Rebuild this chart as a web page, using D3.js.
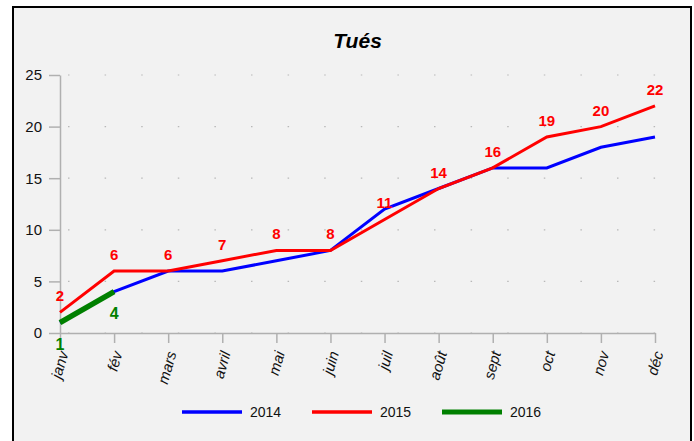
<!DOCTYPE html>
<html>
<head>
<meta charset="utf-8">
<script src="https://cdn.jsdelivr.net/npm/d3@7"></script>
<style>
  body { margin: 0; background: #fff; font-family: "Liberation Sans", Arial, sans-serif; }
  svg { display: block; }
</style>
</head>
<body>
<svg id="chart" width="694" height="441"></svg>
<script>
const months = ['janv', 'fév', 'mars', 'avril', 'mai', 'juin', 'juil', 'août', 'sept', 'oct', 'nov', 'déc'];
const tues2014 = [1, 4, 6, 6, 7, 8, 12, 14, 16, 16, 18, 19];
const tues2015 = [2, 6, 6, 7, 8, 8, 11, 14, 16, 19, 20, 22];
const tues2016 = [1, 4];
const yTicks = [0, 5, 10, 15, 20, 25];

const series = [
  { name: '2014', values: tues2014, color: '#0000ff', width: 3, label: null },
  { name: '2015', values: tues2015, color: '#ff0000', width: 3, label: 'above' },
  { name: '2016', values: tues2016, color: '#008000', width: 5.5, label: 'below' },
];

const svg = d3.select('#chart');
const margin = { top: 75, right: 39, bottom: 108, left: 60 };
const width = 694 - margin.left - margin.right;
const height = 441 - margin.top - margin.bottom;

// panel with black frame
svg.append('rect')
  .attr('x', 13).attr('y', 7)
  .attr('width', 678).attr('height', 450)
  .attr('fill', '#f2f2f2')
  .attr('stroke', '#000')
  .attr('stroke-width', 2);

svg.append('text')
  .attr('x', margin.left + width / 2)
  .attr('y', 48)
  .attr('text-anchor', 'middle')
  .style('font-size', '21px')
  .style('font-weight', 'bold')
  .style('font-style', 'italic')
  .text('Tués');

const x = d3.scalePoint().domain(months).range([0, width]);
const y = d3.scaleLinear().domain([0, 25]).range([height, 0]);

const main = svg.append('g')
  .attr('transform', `translate(${margin.left},${margin.top})`);

// dotted grid
main.append('g')
  .selectAll('line')
  .data(yTicks)
  .enter()
  .append('line')
  .attr('x1', 8).attr('x2', width + 2)
  .attr('y1', (d) => y(d)).attr('y2', (d) => y(d))
  .attr('stroke', '#b8b8b8')
  .attr('stroke-width', 1.2)
  .attr('stroke-dasharray', '1.5,35.1');

const yAxis = main.append('g')
  .call(d3.axisLeft(y).tickValues(yTicks).tickSize(11).tickSizeOuter(0).tickPadding(7));
yAxis.select('.domain').attr('stroke', '#b0b0b0').attr('stroke-width', 1.5);
yAxis.selectAll('.tick line').attr('stroke', '#b0b0b0').attr('stroke-width', 1.5);
yAxis.selectAll('text')
  .style('font-size', '15px')
  .style('font-family', '"Liberation Sans", Arial, sans-serif')
  .attr('fill', '#111');

const xAxis = main.append('g')
  .attr('transform', `translate(0,${height})`)
  .call(d3.axisBottom(x).tickSize(10).tickSizeOuter(0).tickPadding(0));
xAxis.select('.domain').attr('stroke', '#b0b0b0').attr('stroke-width', 1.5);
xAxis.selectAll('.tick line').attr('stroke', '#b0b0b0').attr('stroke-width', 1.5);
xAxis.selectAll('text')
  .attr('y', 0).attr('dy', 0)
  .attr('text-anchor', 'end')
  .attr('transform', 'translate(8,20) rotate(-74)')
  .style('font-size', '15px')
  .style('font-style', 'italic')
  .style('font-family', '"Liberation Sans", Arial, sans-serif')
  .attr('fill', '#111');

const line = d3.line()
  .x((d, i) => x(months[i]))
  .y((d) => y(d));

series.forEach((s) => {
  main.append('path')
    .datum(s.values)
    .attr('fill', 'none')
    .attr('stroke', s.color)
    .attr('stroke-width', s.width)
    .attr('stroke-linejoin', 'miter')
    .attr('d', line);
});

series.filter((s) => s.label).forEach((s) => {
  main.append('g')
    .selectAll('text')
    .data(s.values)
    .enter()
    .append('text')
    .attr('x', (d, i) => x(months[i]))
    .attr('y', (d) => (s.label === 'above' ? y(d) - 11 : y(d) + 27))
    .attr('text-anchor', 'middle')
    .attr('fill', s.color)
    .style('font-size', s.label === 'above' ? '15px' : '16px')
    .style('font-weight', 'bold')
    .text((d) => d);
});

// legend
const legend = svg.append('g').attr('transform', 'translate(182,412)');
const item = legend.selectAll('g')
  .data(series)
  .enter()
  .append('g')
  .attr('transform', (d, i) => `translate(${i * 130},0)`);
item.append('line')
  .attr('x1', 0).attr('x2', 60)
  .attr('stroke', (d) => d.color)
  .attr('stroke-width', (d) => (d.name === '2016' ? 5 : 3.5));
item.append('text')
  .attr('x', 68)
  .attr('dy', '0.35em')
  .style('font-size', '14px')
  .attr('fill', '#111')
  .text((d) => d.name);
</script>
</body>
</html>
